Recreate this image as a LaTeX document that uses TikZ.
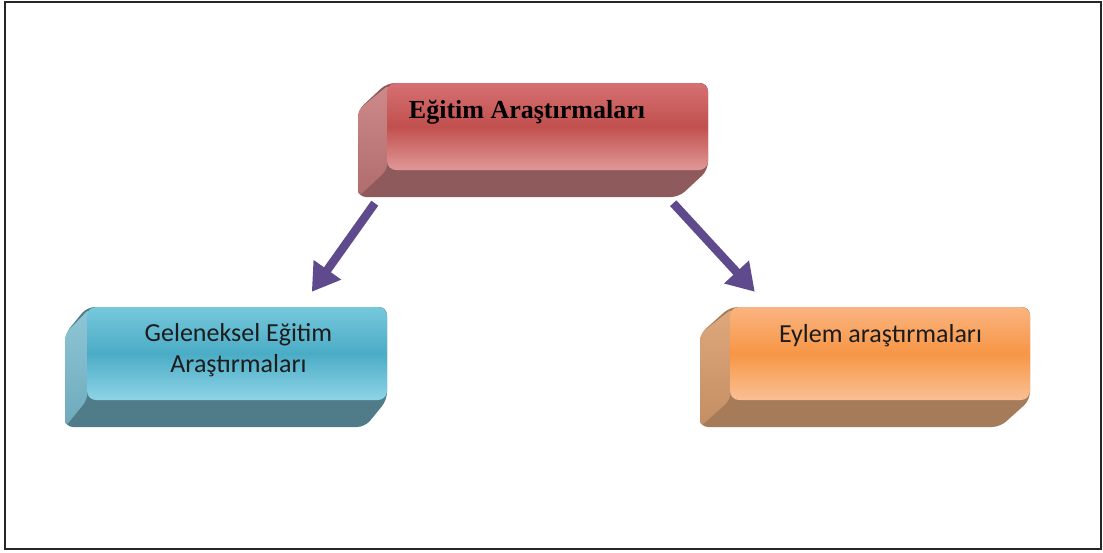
\documentclass[tikz,border=0pt]{standalone}
\usepackage{fontspec}
\setmainfont{Liberation Serif}
\newfontfamily\boxfont{Carlito}
\usetikzlibrary{arrows.meta,calc}

% face colours: front (top / middle / bottom), side (top / bottom), floor
\definecolor{redtop}{RGB}{214,112,114}
\definecolor{redmid}{RGB}{193,80,78}
\definecolor{redlow}{RGB}{224,152,152}
\definecolor{redside}{RGB}{206,138,138}
\definecolor{redsidedark}{RGB}{176,108,108}
\definecolor{redbot}{RGB}{142,90,91}

\definecolor{bluetop}{RGB}{118,200,220}
\definecolor{bluemid}{RGB}{75,172,198}
\definecolor{bluelow}{RGB}{142,212,230}
\definecolor{blueside}{RGB}{142,198,214}
\definecolor{bluesidedark}{RGB}{110,170,188}
\definecolor{bluebot}{RGB}{80,124,137}

\definecolor{orangetop}{RGB}{250,180,128}
\definecolor{orangemid}{RGB}{247,150,70}
\definecolor{orangelow}{RGB}{250,192,148}
\definecolor{orangeside}{RGB}{222,168,124}
\definecolor{orangesidedark}{RGB}{196,142,98}
\definecolor{orangebot}{RGB}{166,123,89}

\definecolor{flowpurple}{RGB}{94,74,140}
\definecolor{inktext}{RGB}{28,28,28}

% extruded sides of a bevelled box: x1,y1,x2,y2 of the front face, depth dx,dy, colour prefix
\newcommand{\bevelsides}[7]{%
  \fill[#7bot, rounded corners=8pt] (#1,#2) -- (#3,#2) -- (#3,#4) -- ({#3-#5},{#4+#6})
    -- ({#1-#5},{#4+#6}) -- ({#1-#5},{#2+#6}) -- cycle;
  \shade[top color=#7side, bottom color=#7sidedark, rounded corners=6pt]
    ({#1+3},{#2+1}) -- ({#1-#5},{#2+#6}) -- ({#1-#5},{#4+#6}) -- (#1,#4) -- cycle;
}

\begin{document}
\begin{tikzpicture}[x=1pt,y=-1pt,
  frontface/.style={rounded corners=9pt, inner sep=0pt, draw=none},
  redface/.style={frontface, top color=redtop, bottom color=redlow, middle color=redmid},
  blueface/.style={frontface, top color=bluetop, bottom color=bluelow, middle color=bluemid},
  orangeface/.style={frontface, top color=orangetop, bottom color=orangelow, middle color=orangemid},
  titletext/.style={anchor=base, inner sep=0pt, font=\fontsize{26}{30}\selectfont\bfseries, text=black},
  boxtext/.style={anchor=base, inner sep=0pt, font=\boxfont\fontsize{26}{31}\selectfont, text=inktext, align=center},
  flow/.style={line width=8.5pt, draw=flowpurple, -{Triangle[width=32pt,length=27pt]}}]

\useasboundingbox (0,0) rectangle (1103,552);
\draw[line width=1.8pt, black!85] (5,2) rectangle (1101,549);

% top box
\bevelsides{387}{83}{708}{170}{29}{27}{red}
\node[redface, minimum width=321pt, minimum height=87pt] (edu) at (547.5,126.5) {};
\node[titletext] (edu-label) at (527,118) {Eğitim Araştırmaları};

% lower left box (baseline anchor sits on the last line)
\bevelsides{87}{307}{387}{400}{22}{27}{blue}
\node[blueface, minimum width=300pt, minimum height=93pt] (trad) at (237,353.5) {};
\node[boxtext] (trad-label) at (238.5,372) {Geleneksel Eğitim\\Araştırmaları};

% lower right box
\bevelsides{730}{307}{1030}{400}{30}{27}{orange}
\node[orangeface, minimum width=300pt, minimum height=93pt] (act) at (880,353.5) {};
\node[boxtext] (act-label) at (880.5,342) {Eylem araştırmaları};

% connectors
\draw[flow] ($(edu.south west)+(-12,33)$) -- ($(trad.north west)+(225,-15)$);
\draw[flow] ($(edu.south east)+(-35,33)$) -- ($(act.north west)+(25,-15)$);
\end{tikzpicture}
\end{document}
